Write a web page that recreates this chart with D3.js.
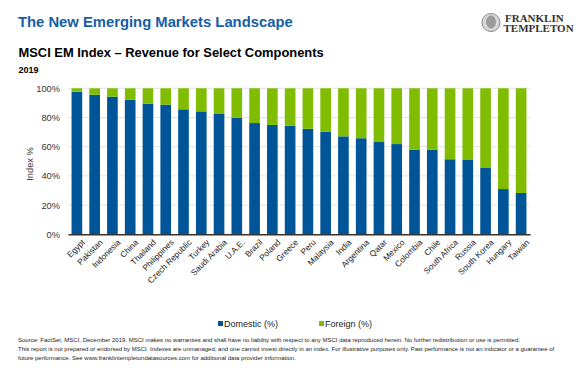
<!DOCTYPE html>
<html>
<head>
<meta charset="utf-8">
<script src="https://cdn.jsdelivr.net/npm/d3@7"></script>
<style>
  html, body { margin: 0; padding: 0; background: #fff; }
  svg { display: block; font-family: Arial, "Liberation Sans", sans-serif; }
</style>
</head>
<body>
<svg id="chart" width="581" height="372"></svg>
<script>
const categories = ["Egypt","Pakistan","Indonesia","China","Thailand","Philippines","Czech Republic","Turkey","Saudi Arabia","U.A.E.","Brazil","Poland","Greece","Peru","Malaysia","India","Argentina","Qatar","Mexico","Colombia","Chile","South Africa","Russia","South Korea","Hungary","Taiwan"];
const domestic = [97.7,95.6,94.3,92.2,89.5,88.8,85.6,84.2,82.4,79.9,76.2,74.9,74.4,72.3,70.3,67.1,65.8,63.2,61.8,58.0,58.0,51.4,50.9,45.4,31.0,28.3];
const foreign = [2.3,4.4,5.7,7.8,10.5,11.2,14.4,15.8,17.6,20.1,23.8,25.1,25.6,27.7,29.7,32.9,34.2,36.8,38.2,42.0,42.0,48.6,49.1,54.6,69.0,71.7];
const yTicks = [0, 20, 40, 60, 80, 100];
const seriesNames = ["Domestic (%)", "Foreign (%)"];
const colors = ["#005599", "#80bc00"];

const svg = d3.select("#chart");

// Header
svg.append("text").attr("x", 18).attr("y", 26.5)
  .attr("font-size", 14.8).attr("font-weight", "bold").attr("fill", "#175da3")
  .text("The New Emerging Markets Landscape");
svg.append("text").attr("x", 18.5).attr("y", 56.5)
  .attr("font-size", 12.9).attr("font-weight", "bold").attr("fill", "#000")
  .text("MSCI EM Index – Revenue for Select Components");
svg.append("text").attr("x", 18.5).attr("y", 72.5)
  .attr("font-size", 9).attr("font-weight", "bold").attr("fill", "#000")
  .text("2019");

// Logo
const logo = svg.append("g");
logo.append("circle").attr("cx", 491).attr("cy", 22.5).attr("r", 9)
  .attr("fill", "#d8d8d8").attr("stroke", "#888").attr("stroke-width", 1);
logo.append("ellipse").attr("cx", 491).attr("cy", 22).attr("rx", 5).attr("ry", 6.5)
  .attr("fill", "#9a9a9a");
logo.append("text").attr("x", 505).attr("y", 21.8)
  .attr("font-family", "'Liberation Serif', 'DejaVu Serif', serif")
  .attr("font-size", 11).attr("font-weight", "bold").attr("fill", "#333")
  .text("FRANKLIN");
logo.append("text").attr("x", 503.5).attr("y", 32.3)
  .attr("font-family", "'Liberation Serif', 'DejaVu Serif', serif")
  .attr("font-size", 11).attr("font-weight", "bold").attr("fill", "#333")
  .text("TEMPLETON");

// Chart
const plotLeft = 68, plotRight = 530, plotTop = 88.3, plotBottom = 234.3;
const x = d3.scaleBand().domain(categories).range([plotLeft, plotRight]).paddingInner(0.4).paddingOuter(0.2);
const y = d3.scaleLinear().domain([0, 100]).range([plotBottom, plotTop]);

// gridlines
svg.append("g").selectAll("line").data(yTicks.filter(t => t > 0)).join("line")
  .attr("x1", plotLeft).attr("x2", plotRight)
  .attr("y1", d => y(d)).attr("y2", d => y(d))
  .attr("stroke", "#e3e3e3").attr("stroke-width", 1);

// y axis labels
const yAxis = d3.axisLeft(y).tickValues(yTicks).tickFormat(d => d + "%").tickSize(0).tickPadding(8);
const yg = svg.append("g").attr("transform", `translate(${plotLeft},0)`).call(yAxis);
yg.select(".domain").remove();
yg.selectAll("text").attr("font-size", 9.3).attr("fill", "#333").attr("font-family", "Arial, 'Liberation Sans', sans-serif");

svg.append("text")
  .attr("transform", `translate(33,164) rotate(-90)`)
  .attr("text-anchor", "middle").attr("font-size", 9.3).attr("fill", "#333")
  .text("Index %");

// stacked bars
const rows = categories.map((c, i) => ({ cat: c, d: domestic[i], f: foreign[i] }));
const stack = d3.stack().keys(["d", "f"])(rows);
svg.append("g").selectAll("g").data(stack).join("g")
  .attr("fill", (s, i) => colors[i])
  .selectAll("rect").data(s => s).join("rect")
  .attr("x", d => x(d.data.cat))
  .attr("width", x.bandwidth())
  .attr("y", d => y(d[1]))
  .attr("height", d => y(d[0]) - y(d[1]));

// x axis
const xAxis = d3.axisBottom(x).tickSize(0).tickPadding(5);
const xg = svg.append("g").attr("transform", `translate(0,${plotBottom})`).call(xAxis);
xg.select(".domain").attr("stroke", "#333").attr("stroke-width", 1.5);
xg.selectAll("text")
  .attr("font-size", 8.3).attr("fill", "#222").attr("font-family", "Arial, 'Liberation Sans', sans-serif")
  .attr("text-anchor", "end")
  .attr("dy", "0.35em")
  .attr("transform", "translate(3,3) rotate(-45)");

// legend
const legend = svg.append("g");
const lx = [218, 319];
seriesNames.forEach((n, i) => {
  legend.append("rect").attr("x", lx[i]).attr("y", 321).attr("width", 5).attr("height", 5).attr("fill", colors[i]);
  legend.append("text").attr("x", lx[i] + 6).attr("y", 327).attr("font-size", 9).attr("fill", "#222").text(n);
});

// footnotes
const notes = [
  "Source: FactSet, MSCI, December 2019. MSCI makes no warranties and shall have no liability with respect to any MSCI data reproduced herein. No further redistribution or use is permitted.",
  "This report is not prepared or endorsed by MSCI. Indexes are unmanaged, and one cannot invest directly in an index. For illustrative purposes only. Past performance is not an indicator or a guarantee of",
  "future performance. See www.franklintempletondatasources.com for additional data provider information."
];
svg.append("g").selectAll("text").data(notes).join("text")
  .attr("x", 18).attr("y", (d, i) => 342 + i * 9)
  .attr("font-size", 6).attr("fill", "#222")
  .text(d => d);
</script>
</body>
</html>
